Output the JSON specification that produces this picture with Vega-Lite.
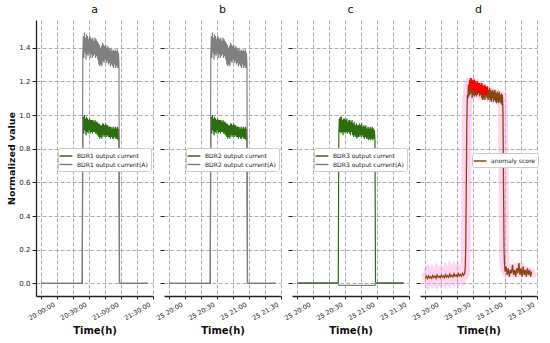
{
"$schema":"https://vega.github.io/schema/vega-lite/v6.json",
"padding":{"left":6,"top":4,"right":0,"bottom":0},
"spacing":11,
"bounds":"flush",
"config":{
 "font":"DejaVu Sans",
 "view":{"stroke":null},
 "axis":{"gridColor":"#999999","gridDash":[4,2],"gridWidth":0.8,"domainColor":"#222222","domainWidth":1.3,"tickColor":"#222222","tickSize":3,"labelFont":"DejaVu Sans","labelColor":"#222222","labelFontSize":6.5,"titleFont":"DejaVu Sans","titleFontWeight":"bold","titleFontSize":10,"titleColor":"#111111"},
 "axisY":{"values":[0,0.2,0.4,0.6,0.8,1.0,1.2,1.4],"labelOverlap":false,"tickSize":4},
 "title":{"fontSize":11,"fontWeight":"normal","offset":5,"font":"DejaVu Sans","color":"#111111"},
 "legend":{"orient":"none","legendX":22,"legendY":128,"symbolType":"M-1.6,0H1.6","symbolSize":64,"symbolStrokeWidth":1.5,"labelFontSize":6,"labelFont":"DejaVu Sans","labelColor":"#222222","fillColor":"white","strokeColor":"#cccccc","padding":3,"cornerRadius":2,"rowPadding":0.5,"labelOffset":6}
},
"datasets":{
"cur":[
{"t":"2021-01-25T20:00:00","g1":0,"k1":0,"g3":0,"k3":0.005},
{"t":"2021-01-25T20:38:30","g1":0,"k1":0,"g3":0,"k3":0.005},
{"t":"2021-01-25T20:39:00","g1":0.90,"k1":1.36,"g3":0.89,"k3":-0.012},
{"t":"2021-01-25T20:39:30","g1":0.99,"k1":1.47,"g3":0.98,"k3":-0.012},
{"t":"2021-01-25T20:40:00","g1":0.89,"k1":1.34,"g3":0.90,"k3":-0.012},
{"t":"2021-01-25T20:40:30","g1":1.00,"k1":1.49,"g3":0.99,"k3":-0.012},
{"t":"2021-01-25T20:41:00","g1":0.91,"k1":1.37,"g3":0.89,"k3":-0.012},
{"t":"2021-01-25T20:41:30","g1":0.98,"k1":1.46,"g3":0.99,"k3":-0.012},
{"t":"2021-01-25T20:42:00","g1":0.88,"k1":1.33,"g3":0.90,"k3":-0.012},
{"t":"2021-01-25T20:42:30","g1":0.99,"k1":1.48,"g3":0.97,"k3":-0.012},
{"t":"2021-01-25T20:43:00","g1":0.90,"k1":1.36,"g3":0.88,"k3":-0.012},
{"t":"2021-01-25T20:43:30","g1":0.98,"k1":1.47,"g3":0.98,"k3":-0.012},
{"t":"2021-01-25T20:44:00","g1":0.89,"k1":1.35,"g3":0.90,"k3":-0.012},
{"t":"2021-01-25T20:44:30","g1":0.97,"k1":1.45,"g3":0.98,"k3":-0.012},
{"t":"2021-01-25T20:45:00","g1":0.91,"k1":1.37,"g3":0.89,"k3":-0.012},
{"t":"2021-01-25T20:45:30","g1":0.98,"k1":1.47,"g3":0.97,"k3":-0.012},
{"t":"2021-01-25T20:46:00","g1":0.89,"k1":1.34,"g3":0.90,"k3":-0.012},
{"t":"2021-01-25T20:46:30","g1":0.97,"k1":1.46,"g3":0.98,"k3":-0.012},
{"t":"2021-01-25T20:47:00","g1":0.90,"k1":1.36,"g3":0.89,"k3":-0.012},
{"t":"2021-01-25T20:47:30","g1":0.97,"k1":1.45,"g3":0.96,"k3":-0.012},
{"t":"2021-01-25T20:48:00","g1":0.89,"k1":1.34,"g3":0.90,"k3":-0.012},
{"t":"2021-01-25T20:48:30","g1":0.97,"k1":1.46,"g3":0.97,"k3":-0.012},
{"t":"2021-01-25T20:49:00","g1":0.90,"k1":1.35,"g3":0.89,"k3":-0.012},
{"t":"2021-01-25T20:49:30","g1":0.96,"k1":1.44,"g3":0.97,"k3":-0.012},
{"t":"2021-01-25T20:50:00","g1":0.90,"k1":1.36,"g3":0.88,"k3":-0.012},
{"t":"2021-01-25T20:50:30","g1":0.97,"k1":1.46,"g3":0.96,"k3":-0.012},
{"t":"2021-01-25T20:51:00","g1":0.89,"k1":1.34,"g3":0.90,"k3":-0.012},
{"t":"2021-01-25T20:51:30","g1":0.96,"k1":1.45,"g3":0.97,"k3":-0.012},
{"t":"2021-01-25T20:52:00","g1":0.89,"k1":1.35,"g3":0.88,"k3":-0.012},
{"t":"2021-01-25T20:52:30","g1":0.96,"k1":1.44,"g3":0.95,"k3":-0.012},
{"t":"2021-01-25T20:53:00","g1":0.88,"k1":1.33,"g3":0.87,"k3":-0.012},
{"t":"2021-01-25T20:53:30","g1":0.95,"k1":1.43,"g3":0.96,"k3":-0.012},
{"t":"2021-01-25T20:54:00","g1":0.87,"k1":1.30,"g3":0.88,"k3":-0.012},
{"t":"2021-01-25T20:54:30","g1":0.95,"k1":1.42,"g3":0.94,"k3":-0.012},
{"t":"2021-01-25T20:55:00","g1":0.86,"k1":1.29,"g3":0.87,"k3":-0.012},
{"t":"2021-01-25T20:55:30","g1":0.94,"k1":1.40,"g3":0.95,"k3":-0.012},
{"t":"2021-01-25T20:56:00","g1":0.87,"k1":1.30,"g3":0.86,"k3":-0.012},
{"t":"2021-01-25T20:56:30","g1":0.94,"k1":1.41,"g3":0.94,"k3":-0.012},
{"t":"2021-01-25T20:57:00","g1":0.86,"k1":1.29,"g3":0.87,"k3":-0.012},
{"t":"2021-01-25T20:57:30","g1":0.95,"k1":1.43,"g3":0.94,"k3":-0.012},
{"t":"2021-01-25T20:58:00","g1":0.88,"k1":1.32,"g3":0.87,"k3":-0.012},
{"t":"2021-01-25T20:58:30","g1":0.95,"k1":1.42,"g3":0.95,"k3":-0.012},
{"t":"2021-01-25T20:59:00","g1":0.87,"k1":1.31,"g3":0.88,"k3":-0.012},
{"t":"2021-01-25T20:59:30","g1":0.94,"k1":1.41,"g3":0.94,"k3":-0.012},
{"t":"2021-01-25T21:00:00","g1":0.88,"k1":1.33,"g3":0.87,"k3":-0.012},
{"t":"2021-01-25T21:00:30","g1":0.95,"k1":1.42,"g3":0.95,"k3":-0.012},
{"t":"2021-01-25T21:01:00","g1":0.87,"k1":1.31,"g3":0.88,"k3":-0.012},
{"t":"2021-01-25T21:01:30","g1":0.94,"k1":1.40,"g3":0.93,"k3":-0.012},
{"t":"2021-01-25T21:02:00","g1":0.88,"k1":1.32,"g3":0.87,"k3":-0.012},
{"t":"2021-01-25T21:02:30","g1":0.94,"k1":1.41,"g3":0.94,"k3":-0.012},
{"t":"2021-01-25T21:03:00","g1":0.87,"k1":1.30,"g3":0.86,"k3":-0.012},
{"t":"2021-01-25T21:03:30","g1":0.93,"k1":1.40,"g3":0.93,"k3":-0.012},
{"t":"2021-01-25T21:04:00","g1":0.87,"k1":1.31,"g3":0.87,"k3":-0.012},
{"t":"2021-01-25T21:04:30","g1":0.93,"k1":1.39,"g3":0.94,"k3":-0.012},
{"t":"2021-01-25T21:05:00","g1":0.86,"k1":1.29,"g3":0.86,"k3":-0.012},
{"t":"2021-01-25T21:05:30","g1":0.93,"k1":1.40,"g3":0.92,"k3":-0.012},
{"t":"2021-01-25T21:06:00","g1":0.87,"k1":1.30,"g3":0.86,"k3":-0.012},
{"t":"2021-01-25T21:06:30","g1":0.92,"k1":1.38,"g3":0.93,"k3":-0.012},
{"t":"2021-01-25T21:07:00","g1":0.86,"k1":1.29,"g3":0.85,"k3":-0.012},
{"t":"2021-01-25T21:07:30","g1":0.93,"k1":1.39,"g3":0.92,"k3":-0.012},
{"t":"2021-01-25T21:08:00","g1":0.86,"k1":1.28,"g3":0.86,"k3":-0.012},
{"t":"2021-01-25T21:08:30","g1":0.92,"k1":1.38,"g3":0.93,"k3":-0.012},
{"t":"2021-01-25T21:09:00","g1":0.87,"k1":1.30,"g3":0.85,"k3":-0.012},
{"t":"2021-01-25T21:09:30","g1":0.93,"k1":1.39,"g3":0.92,"k3":-0.012},
{"t":"2021-01-25T21:10:00","g1":0.86,"k1":1.28,"g3":0.86,"k3":-0.012},
{"t":"2021-01-25T21:10:30","g1":0.92,"k1":1.38,"g3":0.93,"k3":-0.012},
{"t":"2021-01-25T21:11:00","g1":0.86,"k1":1.29,"g3":0.85,"k3":-0.012},
{"t":"2021-01-25T21:11:30","g1":0.93,"k1":1.39,"g3":0.92,"k3":-0.012},
{"t":"2021-01-25T21:12:00","g1":0.85,"k1":1.28,"g3":0.86,"k3":-0.012},
{"t":"2021-01-25T21:12:30","g1":0.92,"k1":1.37,"g3":0.91,"k3":-0.012},
{"t":"2021-01-25T21:13:00","g1":0.87,"k1":1.30,"g3":0.85,"k3":-0.012},
{"t":"2021-01-25T21:13:30","g1":0,"k1":0,"g3":0,"k3":0.005},
{"t":"2021-01-25T21:40:00","g1":0,"k1":0,"g3":0,"k3":0.005}
],
"score":[
{"t":"2021-01-25T20:00:00","s":0.030},{"t":"2021-01-25T20:01:00","s":0.042},{"t":"2021-01-25T20:02:00","s":0.028},{"t":"2021-01-25T20:03:00","s":0.045},
{"t":"2021-01-25T20:04:00","s":0.032},{"t":"2021-01-25T20:05:00","s":0.040},{"t":"2021-01-25T20:06:00","s":0.030},{"t":"2021-01-25T20:07:00","s":0.047},
{"t":"2021-01-25T20:08:00","s":0.035},{"t":"2021-01-25T20:09:00","s":0.044},{"t":"2021-01-25T20:10:00","s":0.031},{"t":"2021-01-25T20:11:00","s":0.050},
{"t":"2021-01-25T20:12:00","s":0.036},{"t":"2021-01-25T20:13:00","s":0.043},{"t":"2021-01-25T20:14:00","s":0.033},{"t":"2021-01-25T20:15:00","s":0.048},
{"t":"2021-01-25T20:16:00","s":0.037},{"t":"2021-01-25T20:17:00","s":0.045},{"t":"2021-01-25T20:18:00","s":0.034},{"t":"2021-01-25T20:19:00","s":0.052},
{"t":"2021-01-25T20:20:00","s":0.038},{"t":"2021-01-25T20:21:00","s":0.046},{"t":"2021-01-25T20:22:00","s":0.036},{"t":"2021-01-25T20:23:00","s":0.055},
{"t":"2021-01-25T20:24:00","s":0.040},{"t":"2021-01-25T20:25:00","s":0.048},{"t":"2021-01-25T20:26:00","s":0.039},{"t":"2021-01-25T20:27:00","s":0.057},
{"t":"2021-01-25T20:28:00","s":0.042},{"t":"2021-01-25T20:29:00","s":0.050},{"t":"2021-01-25T20:30:00","s":0.040},{"t":"2021-01-25T20:31:00","s":0.058},
{"t":"2021-01-25T20:32:00","s":0.044},{"t":"2021-01-25T20:33:00","s":0.053},{"t":"2021-01-25T20:34:00","s":0.043},{"t":"2021-01-25T20:35:00","s":0.060},
{"t":"2021-01-25T20:36:00","s":0.048},{"t":"2021-01-25T20:37:00","s":0.060},{"t":"2021-01-25T20:37:30","s":0.09},{"t":"2021-01-25T20:38:00","s":0.20},
{"t":"2021-01-25T20:38:30","s":0.55},{"t":"2021-01-25T20:39:00","s":0.95},{"t":"2021-01-25T20:39:30","s":1.12},{"t":"2021-01-25T20:40:00","s":1.10},
{"t":"2021-01-25T20:40:30","s":1.18},{"t":"2021-01-25T20:41:00","s":1.11},{"t":"2021-01-25T20:41:30","s":1.20},{"t":"2021-01-25T20:42:00","s":1.12},
{"t":"2021-01-25T20:42:30","s":1.22},{"t":"2021-01-25T20:43:00","s":1.13},{"t":"2021-01-25T20:43:30","s":1.21},{"t":"2021-01-25T20:44:00","s":1.10},
{"t":"2021-01-25T20:44:30","s":1.20},{"t":"2021-01-25T20:45:00","s":1.12},{"t":"2021-01-25T20:45:30","s":1.21},{"t":"2021-01-25T20:46:00","s":1.11},
{"t":"2021-01-25T20:46:30","s":1.19},{"t":"2021-01-25T20:47:00","s":1.12},{"t":"2021-01-25T20:47:30","s":1.20},{"t":"2021-01-25T20:48:00","s":1.11},
{"t":"2021-01-25T20:48:30","s":1.19},{"t":"2021-01-25T20:49:00","s":1.12},{"t":"2021-01-25T20:49:30","s":1.18},{"t":"2021-01-25T20:50:00","s":1.13},
{"t":"2021-01-25T20:50:30","s":1.19},{"t":"2021-01-25T20:51:00","s":1.11},{"t":"2021-01-25T20:51:30","s":1.18},{"t":"2021-01-25T20:52:00","s":1.12},
{"t":"2021-01-25T20:52:30","s":1.17},{"t":"2021-01-25T20:53:00","s":1.10},{"t":"2021-01-25T20:53:30","s":1.16},{"t":"2021-01-25T20:54:00","s":1.09},
{"t":"2021-01-25T20:54:30","s":1.17},{"t":"2021-01-25T20:55:00","s":1.10},{"t":"2021-01-25T20:55:30","s":1.16},{"t":"2021-01-25T20:56:00","s":1.09},
{"t":"2021-01-25T20:56:30","s":1.17},{"t":"2021-01-25T20:57:00","s":1.11},{"t":"2021-01-25T20:57:30","s":1.16},{"t":"2021-01-25T20:58:00","s":1.10},
{"t":"2021-01-25T20:58:30","s":1.17},{"t":"2021-01-25T20:59:00","s":1.09},{"t":"2021-01-25T20:59:30","s":1.15},{"t":"2021-01-25T21:00:00","s":1.10},
{"t":"2021-01-25T21:00:30","s":1.16},{"t":"2021-01-25T21:01:00","s":1.09},{"t":"2021-01-25T21:01:30","s":1.15},{"t":"2021-01-25T21:02:00","s":1.08},
{"t":"2021-01-25T21:02:30","s":1.14},{"t":"2021-01-25T21:03:00","s":1.10},{"t":"2021-01-25T21:03:30","s":1.15},{"t":"2021-01-25T21:04:00","s":1.08},
{"t":"2021-01-25T21:04:30","s":1.14},{"t":"2021-01-25T21:05:00","s":1.09},{"t":"2021-01-25T21:05:30","s":1.15},{"t":"2021-01-25T21:06:00","s":1.08},
{"t":"2021-01-25T21:06:30","s":1.13},{"t":"2021-01-25T21:07:00","s":1.07},{"t":"2021-01-25T21:07:30","s":1.14},{"t":"2021-01-25T21:08:00","s":1.08},
{"t":"2021-01-25T21:08:30","s":1.13},{"t":"2021-01-25T21:09:00","s":1.07},{"t":"2021-01-25T21:09:30","s":1.14},{"t":"2021-01-25T21:10:00","s":1.08},
{"t":"2021-01-25T21:10:30","s":1.12},{"t":"2021-01-25T21:11:00","s":1.07},{"t":"2021-01-25T21:11:30","s":1.13},{"t":"2021-01-25T21:12:00","s":1.06},
{"t":"2021-01-25T21:12:30","s":1.12},{"t":"2021-01-25T21:13:00","s":1.02},{"t":"2021-01-25T21:13:30","s":0.60},{"t":"2021-01-25T21:14:00","s":0.20},
{"t":"2021-01-25T21:14:30","s":0.11},{"t":"2021-01-25T21:15:00","s":0.07},{"t":"2021-01-25T21:16:00","s":0.10},{"t":"2021-01-25T21:17:00","s":0.05},
{"t":"2021-01-25T21:18:00","s":0.09},{"t":"2021-01-25T21:19:00","s":0.04},{"t":"2021-01-25T21:20:00","s":0.08},{"t":"2021-01-25T21:21:00","s":0.06},
{"t":"2021-01-25T21:22:00","s":0.11},{"t":"2021-01-25T21:23:00","s":0.05},{"t":"2021-01-25T21:24:00","s":0.08},{"t":"2021-01-25T21:25:00","s":0.04},
{"t":"2021-01-25T21:26:00","s":0.09},{"t":"2021-01-25T21:27:00","s":0.06},{"t":"2021-01-25T21:28:00","s":0.12},{"t":"2021-01-25T21:29:00","s":0.05},
{"t":"2021-01-25T21:30:00","s":0.09},{"t":"2021-01-25T21:31:00","s":0.04},{"t":"2021-01-25T21:32:00","s":0.10},{"t":"2021-01-25T21:33:00","s":0.05},
{"t":"2021-01-25T21:34:00","s":0.08},{"t":"2021-01-25T21:35:00","s":0.04},{"t":"2021-01-25T21:36:00","s":0.09},{"t":"2021-01-25T21:37:00","s":0.05},
{"t":"2021-01-25T21:38:00","s":0.08},{"t":"2021-01-25T21:39:00","s":0.04},{"t":"2021-01-25T21:40:00","s":0.07}
],
"red":[
{"t":"2021-01-25T20:41:30","r":1.15},{"t":"2021-01-25T20:42:00","r":1.21},{"t":"2021-01-25T20:42:30","r":1.16},{"t":"2021-01-25T20:43:00","r":1.22},
{"t":"2021-01-25T20:43:30","r":1.15},{"t":"2021-01-25T20:44:00","r":1.21},{"t":"2021-01-25T20:44:30","r":1.14},{"t":"2021-01-25T20:45:00","r":1.20},
{"t":"2021-01-25T20:45:30","r":1.16},{"t":"2021-01-25T20:46:00","r":1.21},{"t":"2021-01-25T20:46:30","r":1.14},{"t":"2021-01-25T20:47:00","r":1.20},
{"t":"2021-01-25T20:47:30","r":1.15},{"t":"2021-01-25T20:48:00","r":1.19},{"t":"2021-01-25T20:48:30","r":1.14},{"t":"2021-01-25T20:49:00","r":1.20},
{"t":"2021-01-25T20:49:30","r":1.15},{"t":"2021-01-25T20:50:00","r":1.19},{"t":"2021-01-25T20:50:30","r":1.13},{"t":"2021-01-25T20:51:00","r":1.19},
{"t":"2021-01-25T20:51:30","r":1.14},{"t":"2021-01-25T20:52:00","r":1.18},{"t":"2021-01-25T20:52:30","r":1.13},{"t":"2021-01-25T20:53:00","r":1.19},
{"t":"2021-01-25T20:53:30","r":1.12},{"t":"2021-01-25T20:54:00","r":1.18},{"t":"2021-01-25T20:54:30","r":1.13},{"t":"2021-01-25T20:55:00","r":1.17},
{"t":"2021-01-25T20:55:30","r":1.12},{"t":"2021-01-25T20:56:00","r":1.18},{"t":"2021-01-25T20:56:30","r":1.12},{"t":"2021-01-25T20:57:00","r":1.17},
{"t":"2021-01-25T20:57:30","r":1.13},{"t":"2021-01-25T20:58:00","r":1.17},{"t":"2021-01-25T20:58:30","r":1.12}
]
},
"resolve":{"scale":{"color":"independent"}},
"hconcat":[
{
 "width":117,"height":276,"title":{"text":"a"},
 "data":{"name":"cur"},
 "encoding":{"x":{"field":"t","type":"temporal","title":"Time(h)",
   "scale":{"domain":[{"year":2021,"month":1,"date":25,"hours":19,"minutes":55},{"year":2021,"month":1,"date":25,"hours":21,"minutes":45}]},
   "axis":{"values":[{"year":2021,"month":1,"date":25,"hours":20,"minutes":0},{"year":2021,"month":1,"date":25,"hours":20,"minutes":15},{"year":2021,"month":1,"date":25,"hours":20,"minutes":30},{"year":2021,"month":1,"date":25,"hours":20,"minutes":45},{"year":2021,"month":1,"date":25,"hours":21,"minutes":0},{"year":2021,"month":1,"date":25,"hours":21,"minutes":15},{"year":2021,"month":1,"date":25,"hours":21,"minutes":30},{"year":2021,"month":1,"date":25,"hours":21,"minutes":45}],
     "labelExpr":"minutes(datum.value) % 30 == 0 ? timeFormat(datum.value, '%H:%M:%S') : ''","labelAngle":-30,"labelAlign":"center","labelBaseline":"middle","labelPadding":12,"titlePadding":4}}},
 "layer":[
  {"mark":{"type":"line","strokeWidth":1.2},"encoding":{"y":{"field":"g1","type":"quantitative","title":"Normalized value","scale":{"domain":[-0.075,1.565],"nice":false,"zero":false},"axis":{"format":".1f","labelPadding":2,"labelFontSize":7,"titleFontSize":9.5,"titlePadding":2}},
    "color":{"datum":"BDR1 output current","type":"nominal","scale":{"domain":["BDR1 output current","BDR1 output current(A)"],"range":["#2a6e0e","#808080"]},"legend":{"title":null}}}},
  {"mark":{"type":"line","strokeWidth":1.2},"encoding":{"y":{"field":"k1","type":"quantitative","title":"Normalized value"},"color":{"datum":"BDR1 output current(A)","type":"nominal"}}}
 ]
},
{
 "width":117,"height":276,"title":{"text":"b"},
 "data":{"name":"cur"},
 "encoding":{"x":{"field":"t","type":"temporal","title":"Time(h)",
   "scale":{"domain":[{"year":2021,"month":1,"date":25,"hours":19,"minutes":55},{"year":2021,"month":1,"date":25,"hours":21,"minutes":45}]},
   "axis":{"values":[{"year":2021,"month":1,"date":25,"hours":20,"minutes":0},{"year":2021,"month":1,"date":25,"hours":20,"minutes":15},{"year":2021,"month":1,"date":25,"hours":20,"minutes":30},{"year":2021,"month":1,"date":25,"hours":20,"minutes":45},{"year":2021,"month":1,"date":25,"hours":21,"minutes":0},{"year":2021,"month":1,"date":25,"hours":21,"minutes":15},{"year":2021,"month":1,"date":25,"hours":21,"minutes":30},{"year":2021,"month":1,"date":25,"hours":21,"minutes":45}],
     "labelExpr":"minutes(datum.value) % 30 == 0 ? timeFormat(datum.value, '%d %H:%M') : ''","labelAngle":-30,"labelAlign":"center","labelBaseline":"middle","labelPadding":12,"titlePadding":4}}},
 "layer":[
  {"mark":{"type":"line","strokeWidth":1.2},"encoding":{"y":{"field":"g1","type":"quantitative","title":null,"scale":{"domain":[-0.075,1.565],"nice":false,"zero":false},"axis":{"labels":false,"domain":false}},
    "color":{"datum":"BDR2 output current","type":"nominal","scale":{"domain":["BDR2 output current","BDR2 output current(A)"],"range":["#2a6e0e","#808080"]},"legend":{"title":null}}}},
  {"mark":{"type":"line","strokeWidth":1.2},"encoding":{"y":{"field":"k1","type":"quantitative","title":null},"color":{"datum":"BDR2 output current(A)","type":"nominal"}}}
 ]
},
{
 "width":117,"height":276,"title":{"text":"c"},
 "data":{"name":"cur"},
 "encoding":{"x":{"field":"t","type":"temporal","title":"Time(h)",
   "scale":{"domain":[{"year":2021,"month":1,"date":25,"hours":19,"minutes":55},{"year":2021,"month":1,"date":25,"hours":21,"minutes":45}]},
   "axis":{"values":[{"year":2021,"month":1,"date":25,"hours":20,"minutes":0},{"year":2021,"month":1,"date":25,"hours":20,"minutes":15},{"year":2021,"month":1,"date":25,"hours":20,"minutes":30},{"year":2021,"month":1,"date":25,"hours":20,"minutes":45},{"year":2021,"month":1,"date":25,"hours":21,"minutes":0},{"year":2021,"month":1,"date":25,"hours":21,"minutes":15},{"year":2021,"month":1,"date":25,"hours":21,"minutes":30},{"year":2021,"month":1,"date":25,"hours":21,"minutes":45}],
     "labelExpr":"minutes(datum.value) % 30 == 0 ? timeFormat(datum.value, '%d %H:%M') : ''","labelAngle":-30,"labelAlign":"center","labelBaseline":"middle","labelPadding":12,"titlePadding":4}}},
 "layer":[
  {"mark":{"type":"line","strokeWidth":1.2},"encoding":{"y":{"field":"g3","type":"quantitative","title":null,"scale":{"domain":[-0.075,1.565],"nice":false,"zero":false},"axis":{"labels":false,"domain":false}},
    "color":{"datum":"BDR3 output current","type":"nominal","scale":{"domain":["BDR3 output current","BDR3 output current(A)"],"range":["#2a6e0e","#808080"]},"legend":{"title":null}}}},
  {"mark":{"type":"line","strokeWidth":1.2},"encoding":{"y":{"field":"k3","type":"quantitative","title":null},"color":{"datum":"BDR3 output current(A)","type":"nominal"}}}
 ]
},
{
 "width":117,"height":276,"title":{"text":"d"},
 "encoding":{"x":{"field":"t","type":"temporal","title":"Time(h)",
   "scale":{"domain":[{"year":2021,"month":1,"date":25,"hours":19,"minutes":55},{"year":2021,"month":1,"date":25,"hours":21,"minutes":45}]},
   "axis":{"values":[{"year":2021,"month":1,"date":25,"hours":20,"minutes":0},{"year":2021,"month":1,"date":25,"hours":20,"minutes":15},{"year":2021,"month":1,"date":25,"hours":20,"minutes":30},{"year":2021,"month":1,"date":25,"hours":20,"minutes":45},{"year":2021,"month":1,"date":25,"hours":21,"minutes":0},{"year":2021,"month":1,"date":25,"hours":21,"minutes":15},{"year":2021,"month":1,"date":25,"hours":21,"minutes":30},{"year":2021,"month":1,"date":25,"hours":21,"minutes":45}],
     "labelExpr":"minutes(datum.value) % 30 == 0 ? timeFormat(datum.value, '%d %H:%M') : ''","labelAngle":-30,"labelAlign":"center","labelBaseline":"middle","labelPadding":12,"titlePadding":4}}},
 "layer":[
  {"data":{"name":"score"},"mark":{"type":"line","strokeWidth":10,"color":"#ff99dd","opacity":0.4},"encoding":{"y":{"field":"s","type":"quantitative","title":null,"scale":{"domain":[-0.075,1.565],"nice":false,"zero":false},"axis":{"labels":false,"domain":false}}}},
  {"data":{"name":"score"},"mark":{"type":"line","strokeWidth":1.3},"encoding":{"y":{"field":"s","type":"quantitative","title":null},
    "color":{"datum":"anomaly score","type":"nominal","scale":{"domain":["anomaly score"],"range":["#8b4513"]},"legend":{"title":null,"legendX":52,"legendY":133}}}},
  {"data":{"name":"red"},"mark":{"type":"line","strokeWidth":1.5,"color":"#ff0000"},"encoding":{"y":{"field":"r","type":"quantitative","title":null}}}
 ]
}
]
}
